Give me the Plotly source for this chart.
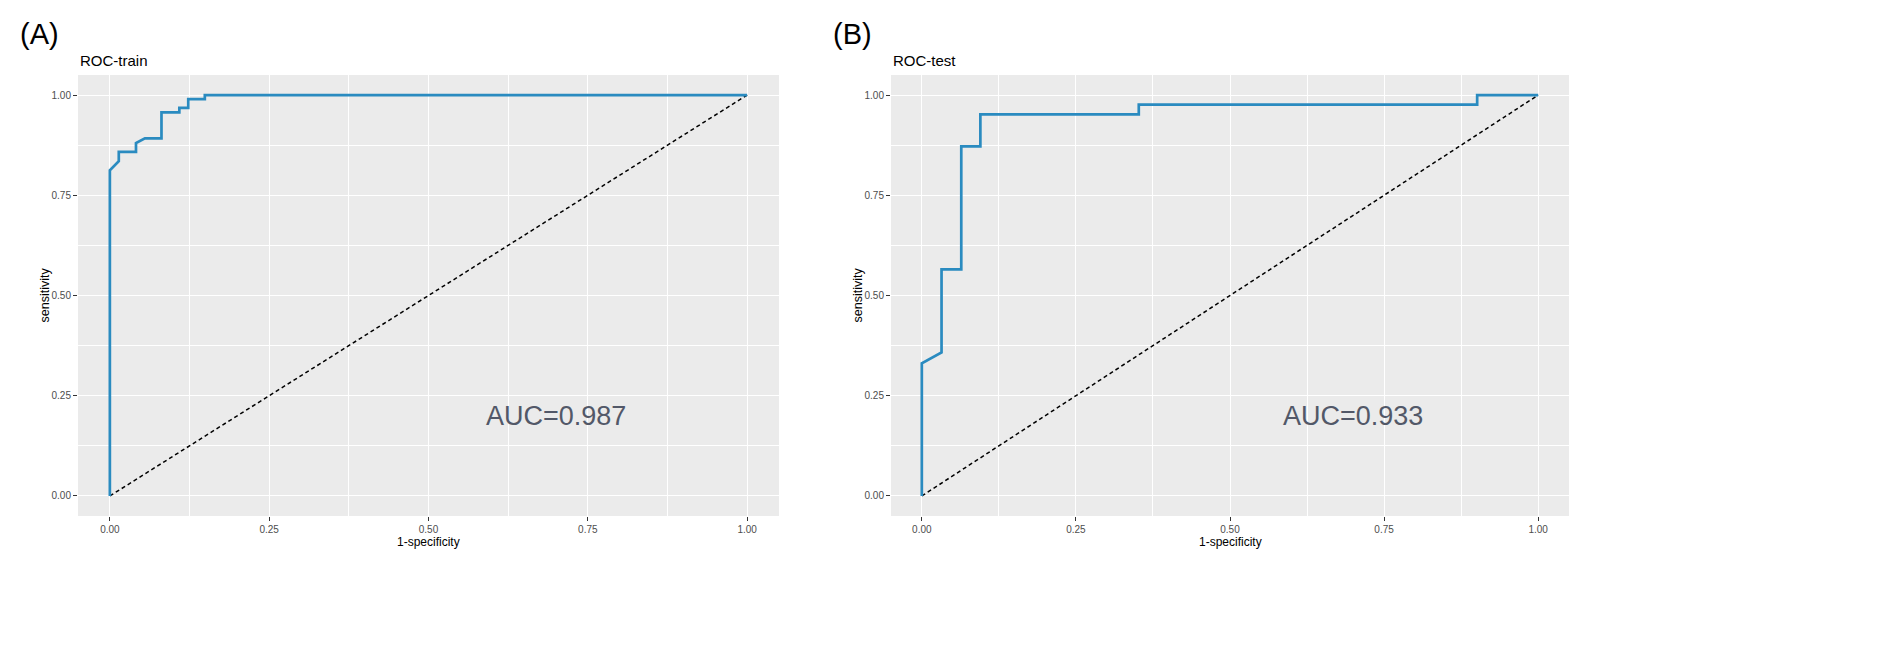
import plotly.graph_objects as go

# ROC points
train_fpr = [0, 0, 0.014, 0.014, 0.041, 0.041, 0.055, 0.081, 0.081, 0.109, 0.109, 0.123, 0.123, 0.149, 0.149, 1.0]
train_tpr = [0, 0.812, 0.835, 0.858, 0.858, 0.880, 0.892, 0.892, 0.957, 0.957, 0.968, 0.968, 0.990, 0.990, 1.0, 1.0]

test_fpr = [0, 0, 0.032, 0.032, 0.064, 0.064, 0.095, 0.095, 0.352, 0.352, 0.901, 0.901, 1.0]
test_tpr = [0, 0.331, 0.358, 0.565, 0.565, 0.872, 0.872, 0.952, 0.952, 0.976, 0.976, 1.0, 1.0]

diag = [0, 1]
auc_text = ["AUC=0.987", "AUC=0.933"]
panel_tags = ["(A)", "(B)"]
panel_titles = ["ROC-train", "ROC-test"]
tick_vals = [0, 0.25, 0.5, 0.75, 1.0]

W, H = 1902, 670
FONT = "Liberation Sans"
BLUE = "#2a8bc0"

# pixel boxes of the grey panels
boxes = [(70, 771), (883, 1561)]
top, bottom = 67, 508

fig = go.Figure()

curves = [(train_fpr, train_tpr), (test_fpr, test_tpr)]
for i, (fx, ty) in enumerate(curves):
    xa = "x" if i == 0 else "x2"
    ya = "y" if i == 0 else "y2"
    fig.add_trace(go.Scatter(x=diag, y=diag, mode="lines", xaxis=xa, yaxis=ya,
                             line=dict(color="black", width=1.5, dash="4px,3px"),
                             showlegend=False, hoverinfo="skip"))
    fig.add_trace(go.Scatter(x=fx, y=ty, mode="lines", xaxis=xa, yaxis=ya,
                             line=dict(color=BLUE, width=2.7),
                             showlegend=False))

axis_common = dict(
    range=[-0.05, 1.05], tickvals=tick_vals, tickformat=".2f",
    showgrid=True, gridcolor="white", gridwidth=1.3,
    minor=dict(dtick=0.125, showgrid=True, gridcolor="white", gridwidth=0.6),
    zeroline=False, showline=False,
    ticks="outside", ticklen=4, tickwidth=1, tickcolor="#333333",
    tickfont=dict(family=FONT, size=10, color="#4d4d4d"),
)

yd = [1 - bottom / H, 1 - top / H]
for i, (l, r) in enumerate(boxes):
    sfx = "" if i == 0 else "2"
    fig.update_layout(**{
        "xaxis" + sfx: dict(axis_common, domain=[l / W, r / W], anchor="y" + sfx),
        "yaxis" + sfx: dict(axis_common, domain=yd, anchor="x" + sfx),
    })

    cx = (l + r) / 2 / W
    ann = [
        dict(text=panel_tags[i], x=(l - 60) / W, y=1 - 26 / H, xanchor="left", yanchor="middle",
             font=dict(family=FONT, size=29, color="black")),
        dict(text=panel_titles[i], x=l / W, y=1 - 52 / H, xanchor="left", yanchor="middle",
             font=dict(family=FONT, size=15, color="black")),
        dict(text="1-specificity", x=cx, y=1 - 534 / H, xanchor="center", yanchor="middle",
             font=dict(family=FONT, size=12, color="black")),
        dict(text="sensitivity", x=(l - 34) / W, y=1 - ((top + bottom) / 2) / H, textangle=-90,
             xanchor="center", yanchor="middle", font=dict(family=FONT, size=12.5, color="black")),
    ]
    for a in ann:
        fig.add_annotation(xref="paper", yref="paper", showarrow=False, **a)
    fig.add_annotation(text=auc_text[i], x=0.7, y=0.2, xref="x" + sfx, yref="y" + sfx,
                       showarrow=False, xanchor="center", yanchor="middle",
                       font=dict(family=FONT, size=27, color="#525868"))

fig.update_layout(
    width=W, height=H,
    margin=dict(l=0, r=0, t=0, b=0),
    paper_bgcolor="white", plot_bgcolor="#ebebeb",
)

fig.write_html("out.html", config={"displayModeBar": False})
